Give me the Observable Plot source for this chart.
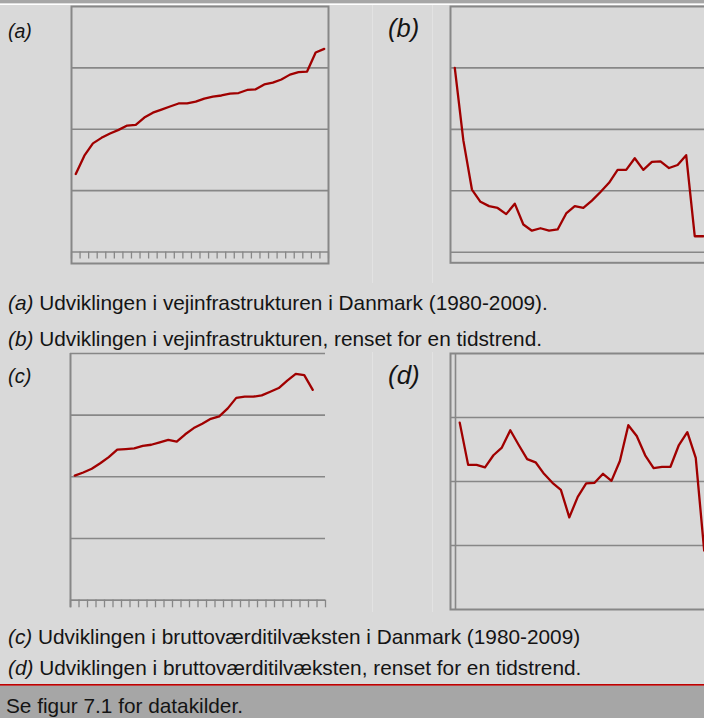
<!DOCTYPE html>
<html><head><meta charset="utf-8">
<script src="https://cdn.jsdelivr.net/npm/d3@7"></script>
<script src="https://cdn.jsdelivr.net/npm/@observablehq/plot@0.6"></script>
<style>
html,body{margin:0;padding:0;background:#d9d9d9;}
#page{position:relative;width:704px;height:718px;overflow:hidden;background:#d9d9d9;font-family:"Liberation Sans",Arial,sans-serif;}
#page svg.panel{position:absolute;overflow:visible;}
#page svg.bg{position:absolute;left:0;top:0;}
</style></head><body><div id="page"></div>
<script>
// ---- data (arbitrary units: one gridline step = 1) ----
const years = [1980,1981,1982,1983,1984,1985,1986,1987,1988,1989,1990,1991,1992,1993,1994,
               1995,1996,1997,1998,1999,2000,2001,2002,2003,2004,2005,2006,2007,2008,2009];
// (a) road infrastructure, Denmark
const seriesA = [1.27,1.57,1.77,1.86,1.93,1.99,2.06,2.07,2.19,2.27,2.32,2.37,2.42,2.42,2.45,
                 2.50,2.53,2.55,2.58,2.59,2.64,2.65,2.73,2.76,2.81,2.89,2.93,2.94,3.25,3.31];
// (b) road infrastructure, detrended
const seriesB = [3.00,1.82,1.02,0.82,0.75,0.72,0.62,0.79,0.45,0.35,0.39,0.35,0.37,0.63,0.75,
                 0.72,0.84,0.98,1.13,1.34,1.34,1.53,1.34,1.47,1.48,1.37,1.42,1.58,0.26,0.26];
// (c) gross value added, Denmark (1980-2008 plotted)
const seriesC = [2.02,2.07,2.13,2.22,2.32,2.44,2.45,2.46,2.50,2.52,2.56,2.60,2.57,2.69,2.79,
                 2.86,2.94,2.98,3.11,3.28,3.30,3.30,3.32,3.38,3.44,3.56,3.67,3.65,3.41];
// (d) gross value added, detrended
const seriesD = [2.92,2.26,2.26,2.22,2.41,2.53,2.80,2.57,2.35,2.30,2.12,1.98,1.87,1.44,1.76,
                 1.97,1.98,2.12,2.01,2.32,2.88,2.71,2.41,2.21,2.23,2.23,2.57,2.77,2.37,0.92];
const gridA = [0,1,2,3];
const gridB = [0,1,2,3];
const gridC = [0,1,2,3,4];
const gridD = [1,2,3];
const panelLabels = ["(a)","(b)","(c)","(d)"];
const captionTags = ["(a)","(b)","(c)","(d)"];
const captionTexts = [
  " Udviklingen i vejinfrastrukturen i Danmark (1980-2009).",
  " Udviklingen i vejinfrastrukturen, renset for en tidstrend.",
  " Udviklingen i bruttoværditilvæksten i Danmark (1980-2009)",
  " Udviklingen i bruttoværditilvæksten, renset for en tidstrend."
];
const footerText = "Se figur 7.1 for datakilder.";

// ---- styling ----
const GRID = "#878787", RED = "#a00000", INK = "#141414";
const page = document.getElementById("page");
const boundaries = years.map(y => y - 0.5).concat([years[years.length-1] + 0.5]);

// background / text layer
const bg = d3.select(page).append("svg").attr("class","bg").attr("width",704).attr("height",718);
bg.append("rect").attr("x",0).attr("y",0).attr("width",704).attr("height",3.5).attr("fill","#a6a6a6");
bg.append("rect").attr("x",0).attr("y",3.5).attr("width",704).attr("height",1.5).attr("fill","#ffffff");
for (const x of [372.5, 432.5]) {
  bg.append("line").attr("x1",x).attr("x2",x).attr("y1",5).attr("y2",283).attr("stroke","#e2e2e2").attr("stroke-width",1);
  bg.append("line").attr("x1",x).attr("x2",x).attr("y1",352).attr("y2",612).attr("stroke","#e2e2e2").attr("stroke-width",1);
}
bg.append("rect").attr("x",0).attr("y",684).attr("width",704).attr("height",1.8).attr("fill","#c00000");
bg.append("rect").attr("x",0).attr("y",685.8).attr("width",704).attr("height",33).attr("fill","#a6a6a6");

const labelPos = [[8,38,19.5],[388,36.6,25.5],[8,382.8,20],[388,383.5,26]];
panelLabels.forEach((t,i) => {
  const [x,y,s] = labelPos[i];
  bg.append("text").attr("x",x).attr("y",y).attr("font-size",s).attr("font-style","italic")
    .attr("fill",INK).text(t);
});
const capY = [309.5, 345.5, 643.5, 674.5];
captionTags.forEach((t,i) => {
  const tx = bg.append("text").attr("x",8).attr("y",capY[i]).attr("font-size",20.8).attr("fill",INK)
    .style("white-space","pre");
  tx.append("tspan").attr("font-style","italic").text(t);
  tx.append("tspan").text(captionTexts[i]);
});
bg.append("text").attr("x",6).attr("y",712.5).attr("font-size",20.8).attr("fill",INK).text(footerText);

// ---- panels ----
function panel(cfg, marks) {
  const pad = 3;
  const xd = [1979.5 + (cfg.left - cfg.bandLeft)/cfg.bandW, 1979.5 + (cfg.right - cfg.bandLeft)/cfg.bandW];
  const yd = [(cfg.zero - cfg.bottom)/cfg.unit, (cfg.zero - cfg.top)/cfg.unit];
  const w = cfg.right - cfg.left + 2*pad, h = cfg.bottom - cfg.top + 2*pad;
  const svg = Plot.plot({
    width: w, height: h, margin: pad,
    x: {domain: xd, axis: null},
    y: {domain: yd, axis: null},
    style: {background: "transparent", overflow: "visible"},
    marks: marks(cfg)
  });
  svg.classList.add("panel");
  svg.style.left = (cfg.left - pad) + "px";
  svg.style.top = (cfg.top - pad) + "px";
  svg.style.maxWidth = "none";
  page.appendChild(svg);
}
const lineOpts = {x: (d,i) => years[i], y: d => d, stroke: RED, strokeWidth: 2.3, strokeLinejoin: "round"};

// (a)
panel({left:71, right:328, top:6, bottom:263, bandLeft:71, bandW:8.567, zero:251.5, unit:61.375}, cfg => [
  Plot.ruleY(gridA, {stroke: GRID, strokeWidth: 1.6}),
  Plot.ruleX(boundaries, {y1: 0, y2: -7/cfg.unit, stroke: GRID, strokeWidth: 1.3}),
  Plot.frame({stroke: GRID, strokeWidth: 2}),
  Plot.line(seriesA, lineOpts)
]);
// (b)
panel({left:450, right:712, top:6, bottom:262.3, bandLeft:450, bandW:8.57, zero:251.7, unit:61.43}, cfg => [
  Plot.ruleY(gridB, {stroke: GRID, strokeWidth: 1.6}),
  Plot.frame({stroke: GRID, strokeWidth: 2}),
  Plot.line(seriesB, lineOpts)
]);
// (c)
panel({left:70, right:325, top:352.7, bottom:607, bandLeft:70, bandW:8.5, zero:599.3, unit:61.65}, cfg => [
  Plot.ruleY(gridC, {stroke: GRID, strokeWidth: 1.6}),
  Plot.ruleX([years[0] - 0.5], {y1: -7.7/cfg.unit, y2: 4, stroke: GRID, strokeWidth: 2}),
  Plot.ruleX(boundaries, {y1: 0, y2: -7.7/cfg.unit, stroke: GRID, strokeWidth: 1.3}),
  Plot.line(seriesC, lineOpts)
]);
// (d)
panel({left:450, right:712, top:352.7, bottom:608.7, bandLeft:455, bandW:8.43, zero:608.7, unit:64}, cfg => [
  Plot.ruleY(gridD, {stroke: GRID, strokeWidth: 1.6}),
  Plot.ruleX([years[0] - 0.5], {stroke: GRID, strokeWidth: 1.6}),
  Plot.frame({stroke: GRID, strokeWidth: 2}),
  Plot.line(seriesD, lineOpts)
]);
</script>
</body></html>
